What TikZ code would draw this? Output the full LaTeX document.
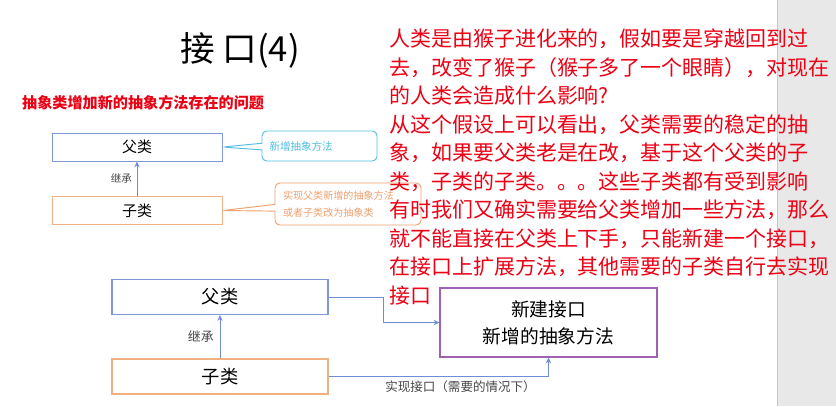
\documentclass[tikz,border=0pt]{standalone}
\usepackage{fontspec}
\setmainfont{Noto Sans CJK SC}
\usetikzlibrary{positioning, arrows.meta, shapes.callouts}
\definecolor{parentblue}{RGB}{125,152,212}
\definecolor{childorange}{RGB}{240,176,130}
\definecolor{ifacepurple}{RGB}{160,96,182}
\definecolor{arrowblue}{RGB}{110,140,215}
\definecolor{calloutcyan}{RGB}{80,190,225}
\definecolor{calloutorange}{RGB}{238,160,110}
\definecolor{storyred}{RGB}{235,0,20}
\definecolor{notegray}{RGB}{70,70,70}
\definecolor{stripgray}{RGB}{232,232,232}
\definecolor{stripline}{RGB}{200,200,200}

\begin{document}
\begin{tikzpicture}[x=0.03cm, y=-0.03cm,
  box/.style={draw, line width=0.8pt, minimum width=5.1cm, minimum height=0.84cm,
              font=\fontsize{12.8}{15}\selectfont},
  bigbox/.style={draw, line width=0.9pt, minimum width=6.48cm, minimum height=1.05cm,
                 font=\fontsize{15.6}{18}\selectfont},
  arrow/.style={-{Stealth[length=5pt, width=4.5pt]}, line width=0.8pt, draw=arrowblue},
  lbl/.style={text=notegray, inner sep=1pt},
  remark/.style={rectangle callout, rounded corners=4pt, draw, fill=white, line width=0.8pt,
                 callout pointer width=0.2cm, align=left}]
  \useasboundingbox (0,0) rectangle (836,406);
  \fill[stripgray] (777,0) rectangle (836,406);
  \draw[stripline, line width=0.8pt] (777,0) -- (777,406);

  \node (title) at (240,50) {\fontsize{29.5}{34}\selectfont 接 口(4)};
  \node[anchor=west, inner sep=0, text=storyred, font=\bfseries\fontsize{12.9}{15}\selectfont]
    (problem) at (22,103) {抽象类增加新的抽象方法存在的问题};

  % old design
  \node[box, draw=parentblue] (pa) at (137,147) {父类};
  \node[box, draw=childorange] (pc) at (137,210.5) {子类};
  \draw[arrow] (pc.north) -- node[lbl, left=3pt, font=\fontsize{9}{11}\selectfont] {继承} (pa.south);
  \node[remark, draw=calloutcyan, text=calloutcyan, minimum width=3.45cm, minimum height=0.9cm,
        text width=3.0cm, font=\fontsize{9}{11}\selectfont, callout absolute pointer={(pa.east)}]
    (newmethod) at (319.5,146) {新增抽象方法};
  \node[remark, draw=calloutorange, text=calloutorange, minimum width=4.38cm, minimum height=1.26cm,
        text width=3.9cm, font=\fontsize{8.6}{15}\selectfont, callout absolute pointer={(pc.east)}]
    (fixchild) at (348,204) {实现父类新增的抽象方法\\或者子类改为抽象类};

  % new design
  \node[bigbox, draw=parentblue] (parent) at (220,297) {父类};
  \node[bigbox, draw=childorange] (child) at (220,376.5) {子类};
  \node[draw=ifacepurple, line width=0.9pt, minimum width=6.51cm, minimum height=2.07cm, align=center,
        font=\fontsize{16}{23}\selectfont] (iface) at (548.5,322.5) {新建接口\\新增的抽象方法};
  \draw[arrow] (child.north) -- node[lbl, left=4pt, font=\fontsize{11}{13}\selectfont] {继承} (parent.south);
  \draw[arrow] (parent.east) -- ++(55,0) |- (iface.west);
  \draw[arrow] (child.east) -| node[lbl, below=2pt, pos=0.3, font=\fontsize{10.7}{13}\selectfont]
    {实现接口（需要的情况下）} (iface.south);

  \node[anchor=north west, inner sep=0, align=left, text=storyred, font=\fontsize{17.9}{24.3}\selectfont]
    (story) at (389,29) {人类是由猴子进化来的，假如要是穿越回到过\\
    去，改变了猴子（猴子多了一个眼睛），对现在\\
    的人类会造成什么影响?\\
    从这个假设上可以看出，父类需要的稳定的抽\\
    象，如果要父类老是在改，基于这个父类的子\\
    类，子类的子类。。。这些子类都有受到影响\\
    有时我们又确实需要给父类增加一些方法，那么\\
    就不能直接在父类上下手，只能新建一个接口，\\
    在接口上扩展方法，其他需要的子类自行去实现\\
    接口};
\end{tikzpicture}
\end{document}
